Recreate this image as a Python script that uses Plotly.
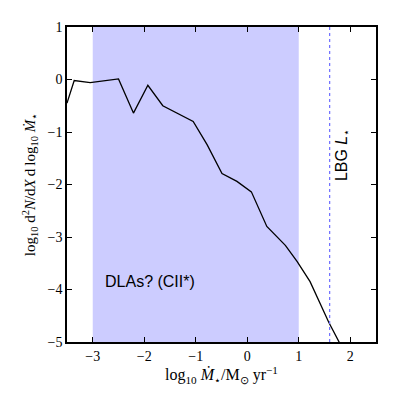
import plotly.graph_objects as go

# log10 SFR vs log10 d2N/dX dlog10 SFR
log_sfr = [-3.5, -3.36, -3.05, -2.5, -2.21, -1.93, -1.64, -1.05, -0.78, -0.49,
           -0.20, 0.08, 0.38, 0.74, 0.97, 1.22, 1.58, 1.79, 2.05]
log_dn = [-0.45, -0.02, -0.06, 0.01, -0.64, -0.11, -0.50, -0.80, -1.24, -1.79,
          -1.94, -2.14, -2.80, -3.16, -3.47, -3.85, -4.62, -4.99, -5.5]

dla_range = [-3.0, 1.0]
lbg_lstar = 1.6

x_ticks = [-3, -2, -1, 0, 1, 2]
y_ticks = [-5, -4, -3, -2, -1, 0, 1]
minus = "\u2212"

serif = "Liberation Serif"
sans = "Liberation Sans"

fig = go.Figure()

fig.add_trace(go.Scatter(x=log_sfr, y=log_dn, mode="lines",
                         line=dict(color="black", width=1.3),
                         showlegend=False))

# DLA band
fig.add_shape(type="rect", xref="x", yref="paper",
              x0=dla_range[0], x1=dla_range[1], y0=0, y1=1,
              fillcolor="rgb(204,204,255)", line_width=0, layer="below")
# LBG L*
fig.add_shape(type="line", xref="x", yref="paper",
              x0=lbg_lstar, x1=lbg_lstar, y0=0, y1=1,
              line=dict(color="rgb(110,110,255)", width=1.2, dash="dot"))

fig.add_annotation(x=-2.8, y=-3.84, text="DLAs? (CII*)", showarrow=False,
                   xanchor="left", yanchor="middle",
                   font=dict(family=sans, size=16, color="black"))
fig.add_annotation(x=1.84, y=-1.44, text="LBG <i>L</i><sub>\u22c6</sub>",
                   showarrow=False, textangle=-90,
                   font=dict(family=sans, size=16, color="black"))

axis_common = dict(ticks="inside", ticklen=5, tickwidth=1, tickcolor="black",
                   showline=True, linecolor="black", linewidth=1.5,
                   mirror="allticks", showgrid=False, zeroline=False,
                   tickfont=dict(family=serif, size=14, color="black"))

fig.update_xaxes(range=[-3.5, 2.5], tickvals=x_ticks,
                 ticktext=[str(v).replace("-", minus) for v in x_ticks],
                 title=dict(text="log<sub>10</sub> <i>M\u0307</i><sub>\u22c6</sub>/M<sub>\u2299</sub> yr<sup>\u22121</sup>",
                            font=dict(family=serif, size=16, color="black"),
                            standoff=6),
                 **axis_common)
fig.update_yaxes(range=[-5, 1], tickvals=y_ticks,
                 ticktext=[str(v).replace("-", minus) for v in y_ticks],
                 title=dict(text="log<sub>10</sub> d<sup>2</sup><i>N</i>/d<i>X</i>\u2009d\u2009log<sub>10</sub> <i>M\u0307</i><sub>\u22c6</sub>",
                            font=dict(family=serif, size=15, color="black"),
                            standoff=8),
                 **axis_common)

fig.update_layout(width=399, height=399,
                  margin=dict(l=59, r=31, t=15, b=65),
                  plot_bgcolor="white", paper_bgcolor="white")

fig.write_html("out.html")
